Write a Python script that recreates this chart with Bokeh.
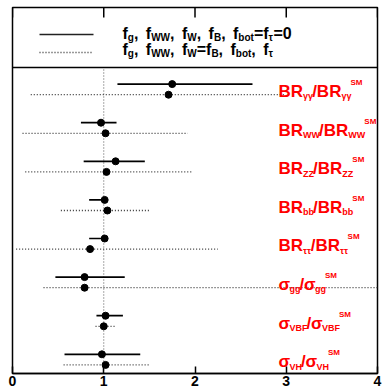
from bokeh.plotting import figure
from bokeh.models import Range1d, FixedTicker, Span, ColumnDataSource
from bokeh.core.properties import value
from bokeh.embed import file_html
from bokeh.resources import INLINE

# ---------------- data ----------------
prefixes = ["BR", "BR", "BR", "BR", "BR", "σ", "σ", "σ"]
channels = ["γγ", "WW", "ZZ", "bb", "ττ", "gg", "VBF", "VH"]

# fit 1 : f_g, f_WW, f_W, f_B, f_bot = f_tau = 0   (solid)
fit1_central = [1.75, 0.97, 1.13, 1.01, 1.01, 0.79, 1.02, 0.98]
fit1_low     = [1.15, 0.75, 0.78, 0.84, 0.84, 0.47, 0.92, 0.57]
fit1_high    = [2.63, 1.14, 1.45, 1.03, 1.03, 1.23, 1.21, 1.40]

# fit 2 : f_g, f_WW, f_W = f_B, f_bot, f_tau   (dotted)
fit2_central = [1.71, 1.02, 1.03, 1.04, 0.85, 0.79, 1.00, 1.02]
fit2_low     = [0.20, 0.11, 0.14, 0.53, 0.04, 0.34, 0.91, 0.56]
fit2_high    = [2.99, 1.92, 1.97, 1.51, 2.25, 4.30, 1.13, 1.50]

x_ticks = [0, 1, 2, 3, 4]
sm_value = 1.0

# ---------------- layout ----------------
W, H = 382, 392
FL, FR, FT, FB = 12, 377, 7, 373
X0, X1 = 0, 4
PX_X = (FR - FL) / (X1 - X0)
PX_Y = 38.6
Y0 = -0.36
Y1 = Y0 + (FB - FT) / PX_Y
SEP_PX = 67
PAIR_OFF = 5.3 / PX_Y


def xd(px):
    return X0 + (px - FL) / PX_X


def yd(py):
    return Y1 - (py - FT) / PX_Y


n = len(channels)
yc = [n - 1 - i for i in range(n)]
y_solid = [v + PAIR_OFF for v in yc]
y_dot = [v - PAIR_OFF for v in yc]
y_sep = yd(SEP_PX)

p = figure(width=W, height=H, x_range=Range1d(X0, X1), y_range=Range1d(Y0, Y1),
           output_backend="svg", toolbar_location=None, y_axis_type=None,
           min_border_left=FL, min_border_right=W - FR,
           min_border_top=FT, min_border_bottom=H - FB)
p.grid.visible = False
p.background_fill_color = "white"
p.border_fill_color = "white"
p.outline_line_color = "black"
p.outline_line_width = 1.5

ax = p.xaxis[0]
ax.ticker = FixedTicker(ticks=x_ticks)
ax.major_tick_in = 7
ax.major_tick_out = 0
ax.minor_tick_line_color = None
ax.axis_line_color = "black"
ax.axis_line_width = 1.5
ax.major_tick_line_width = 1.5
ax.major_label_standoff = 2
ax.major_label_text_font = "Liberation Sans"
ax.major_label_text_font_style = "bold"
ax.major_label_text_font_size = "14px"
ax.major_label_text_color = "black"

# top ticks
p.segment(x0=x_ticks, y0=[Y1] * len(x_ticks), x1=x_ticks,
          y1=[Y1 - 10 / PX_Y] * len(x_ticks), line_color="black", line_width=1.5)

# legend separator
p.add_layout(Span(location=y_sep, dimension="width", line_color="black", line_width=1.5))

# SM reference line
p.segment(x0=[sm_value], y0=[Y0], x1=[sm_value], y1=[y_sep],
          line_color="#555555", line_width=1, line_dash="1 2")

# error bars
p.segment(x0=fit2_low, y0=y_dot, x1=fit2_high, y1=y_dot,
          line_color="#333333", line_width=1.3, line_dash="1 2")
p.segment(x0=fit1_low, y0=y_solid, x1=fit1_high, y1=y_solid,
          line_color="black", line_width=1.7)
p.scatter(fit1_central, y_solid, size=7, color="black")
p.scatter(fit2_central, y_dot, size=7, color="black")

# legend samples
p.segment(x0=[xd(39)], y0=[yd(34)], x1=[xd(93)], y1=[yd(34)],
          line_color="#222222", line_width=1.7)
p.segment(x0=[xd(39)], y0=[yd(52)], x1=[xd(93)], y1=[yd(52)],
          line_color="#333333", line_width=1.3, line_dash="1 2")

# ---------------- rich text helper ----------------
WID = {'B': 722, 'R': 722, 'W': 944, 'Z': 611, 'S': 667, 'M': 833, 'V': 667,
       'H': 722, 'F': 611, 'b': 611, 'o': 611, 't': 333, 'g': 611, 'f': 333,
       ',': 278, ' ': 278, '=': 584, '0': 556, '/': 278, 'γ': 560, 'σ': 640,
       'τ': 480}


def tw(s, size):
    return sum(WID.get(c, 600) for c in s) / 1000.0 * size


texts = {"x": [], "y": [], "text": [], "size": [], "color": []}


def lay(pieces, x_px, base_py, sizes, color):
    cx = x_px
    for t, k in pieces:
        size, dy, extra = sizes[k]
        texts["x"].append(xd(cx))
        texts["y"].append(yd(base_py + dy))
        texts["text"].append(t)
        texts["size"].append("%.1fpx" % size)
        texts["color"].append(color)
        cx += tw(t, size) + extra


# kinds: m main, s subscript, p superscript (starts slightly inside sub end)
RED_SIZES = {"m": (17, 0, 0), "s": (9, 5, -1), "p": (8, -9, 0)}
for i in range(n):
    pre, ch = prefixes[i], channels[i]
    pieces = [(pre, "m"), (ch, "s"), ("/", "m"), (pre, "m"), (ch, "s"), ("SM", "p")]
    row_py = FT + (Y1 - yc[i]) * PX_Y
    lay(pieces, 278, row_py + 2, RED_SIZES, "#ff0000")

# legend text: m main, s subscript, c comma separator with extra spacing
LEG_SIZES = {"m": (16, 0, 0), "s": (10, 3.5, 0), "c": (16, 0, 3)}
leg1 = [("f", "m"), ("g", "s"), (", ", "c"), ("f", "m"), ("WW", "s"), (", ", "c"),
        ("f", "m"), ("W", "s"), (", ", "c"), ("f", "m"), ("B", "s"), (", ", "c"),
        ("f", "m"), ("bot", "s"), ("=f", "m"), ("τ", "s"), ("=0", "m")]
leg2 = [("f", "m"), ("g", "s"), (", ", "c"), ("f", "m"), ("WW", "s"), (", ", "c"),
        ("f", "m"), ("W", "s"), ("=f", "m"), ("B", "s"), (", ", "c"),
        ("f", "m"), ("bot", "s"), (", ", "c"), ("f", "m"), ("τ", "s")]
lay(leg1, 122, 33, LEG_SIZES, "black")
lay(leg2, 122, 49, LEG_SIZES, "black")

p.text(x="x", y="y", text="text", source=ColumnDataSource(texts),
       text_font=value("Liberation Sans"), text_font_style="bold",
       text_font_size="size", text_color="color",
       text_align="left", text_baseline="alphabetic")

open("out.html", "w").write(file_html(p, INLINE))
